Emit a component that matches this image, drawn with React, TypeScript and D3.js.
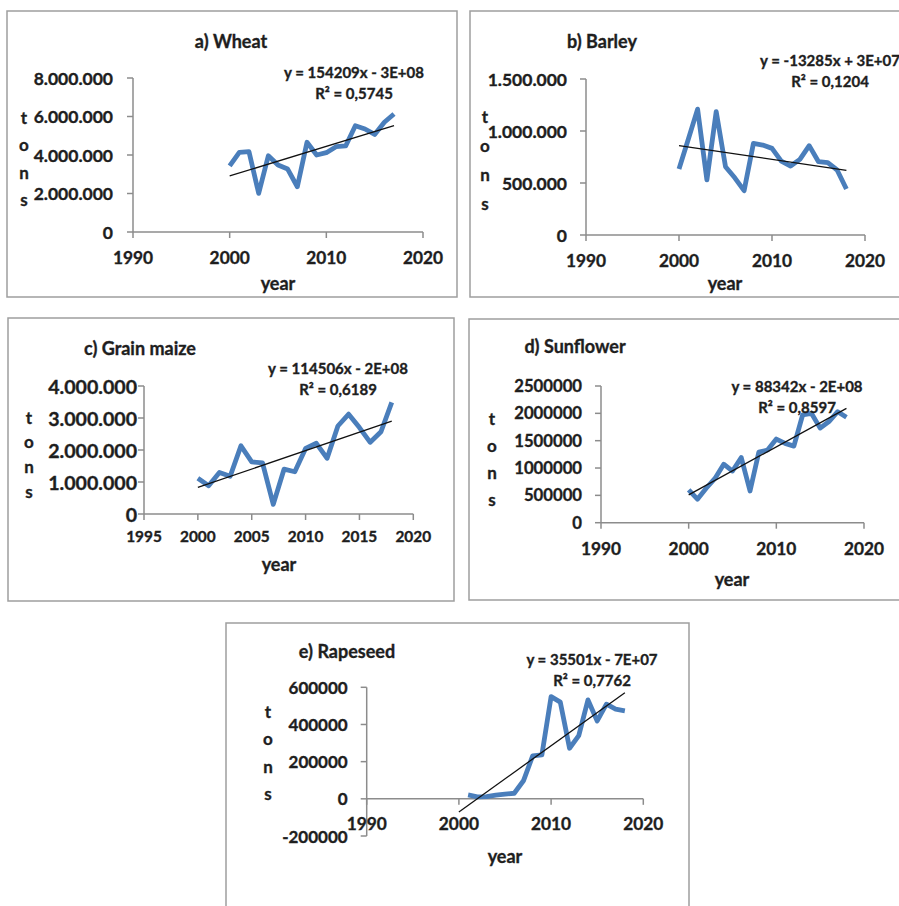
import React from "react";
import * as d3 from "d3";

// ---- data ----
const wheatYears = [2000, 2001, 2002, 2003, 2004, 2005, 2006, 2007, 2008, 2009, 2010, 2011, 2012, 2013, 2014, 2015, 2016, 2017];
const wheatTons = [3430000, 4140000, 4170000, 2010000, 3960000, 3480000, 3270000, 2350000, 4660000, 4000000, 4120000, 4430000, 4470000, 5520000, 5350000, 5070000, 5700000, 6130000];
const wheatTrend = [[2000, 2910000], [2017, 5520000]];

const barleyYears = [2000, 2001, 2002, 2003, 2004, 2005, 2006, 2007, 2008, 2009, 2010, 2011, 2012, 2013, 2014, 2015, 2016, 2017, 2018];
const barleyTons = [635000, 920000, 1210000, 530000, 1186000, 657000, 550000, 426000, 880000, 865000, 833000, 710000, 663000, 727000, 859000, 705000, 695000, 625000, 442000];
const barleyTrend = [[2000, 859000], [2018, 622000]];

const maizeYears = [2000, 2001, 2002, 2003, 2004, 2005, 2006, 2007, 2008, 2009, 2010, 2011, 2012, 2013, 2014, 2015, 2016, 2017, 2018];
const maizeTons = [1115000, 885000, 1300000, 1180000, 2130000, 1630000, 1600000, 300000, 1400000, 1320000, 2050000, 2210000, 1740000, 2750000, 3120000, 2700000, 2240000, 2570000, 3490000];
const maizeTrend = [[2000, 830000], [2018, 2900000]];

const sunflowerYears = [2000, 2001, 2002, 2003, 2004, 2005, 2006, 2007, 2008, 2009, 2010, 2011, 2012, 2013, 2014, 2015, 2016, 2017, 2018];
const sunflowerTons = [600000, 430000, 630000, 810000, 1070000, 945000, 1190000, 580000, 1290000, 1330000, 1530000, 1450000, 1400000, 1970000, 2000000, 1730000, 1850000, 2030000, 1930000];
const sunflowerTrend = [[2000, 510000], [2018, 2090000]];

const rapeseedYears = [2001, 2002, 2003, 2004, 2005, 2006, 2007, 2008, 2009, 2010, 2011, 2012, 2013, 2014, 2015, 2016, 2017, 2018];
const rapeseedTons = [21500, 11000, 12000, 20000, 25000, 30000, 97000, 231000, 237000, 550000, 520000, 272000, 340000, 532000, 419000, 509000, 482000, 473000];
const rapeseedTrend = [[2000, -71000], [2018, 571000]];

const xTicks10 = [1990, 2000, 2010, 2020];
const xTicks5 = [1995, 2000, 2005, 2010, 2015, 2020];

const tonsLetters = ["t", "o", "n", "s"];

const dotFmt = d3.formatLocale({ decimal: ",", thousands: ".", grouping: [3], currency: ["", ""] }).format(",d");
const plainFmt = (v: number) => String(v);

const FONT = "Lato, 'Open Sans', sans-serif";
const TEXT = "#1e1e1e";
const BLUE = "#4a7ebb";
const GRAY = "#8c8c8c";

type Panel = {
  box: [number, number, number, number];
  xRange: [number, number];
  xDomain: [number, number];
  yRange: [number, number];
  yDomain: [number, number];
  xTicks: number[];
  yTicks: number[];
  fmt: (v: number) => string;
  years: number[];
  values: number[];
  trend: number[][];
  title: string;
  titlePos: [number, number];
  eq: string;
  r2: string;
  eqPos: [number, number];
  tonsX: number;
  tonsY: [number, number];
  yearPos: [number, number];
  yTickGap: number;
  yTickSize: number;
  xTickSize: number;
  xTickDy: number;
};

const panels: Panel[] = [
  {
    box: [7, 11, 457, 297],
    xRange: [133, 423], xDomain: [1990, 2020],
    yRange: [232, 78], yDomain: [0, 8000000],
    xTicks: xTicks10, yTicks: [0, 2000000, 4000000, 6000000, 8000000], fmt: dotFmt,
    years: wheatYears, values: wheatTons, trend: wheatTrend,
    title: "a) Wheat", titlePos: [231, 41],
    eq: "y = 154209x - 3E+08", r2: "R² = 0,5745", eqPos: [354, 72],
    tonsX: 24, tonsY: [117, 27.5], yearPos: [278, 283],
    yTickGap: 20, yTickSize: 17.5, xTickSize: 17.3, xTickDy: 25,
  },
  {
    box: [470, 11, 910, 297],
    xRange: [586, 865], xDomain: [1990, 2020],
    yRange: [235, 79], yDomain: [0, 1500000],
    xTicks: xTicks10, yTicks: [0, 500000, 1000000, 1500000], fmt: dotFmt,
    years: barleyYears, values: barleyTons, trend: barleyTrend,
    title: "b) Barley", titlePos: [602, 41],
    eq: "y = -13285x + 3E+07", r2: "R² = 0,1204", eqPos: [830, 60],
    tonsX: 485, tonsY: [116, 29], yearPos: [725, 283],
    yTickGap: 19, yTickSize: 17.5, xTickSize: 17.3, xTickDy: 25,
  },
  {
    box: [8, 318, 454, 601],
    xRange: [144, 413.3], xDomain: [1995, 2020],
    yRange: [514, 386], yDomain: [0, 4000000],
    xTicks: xTicks5, yTicks: [0, 1000000, 2000000, 3000000, 4000000], fmt: dotFmt,
    years: maizeYears, values: maizeTons, trend: maizeTrend,
    title: "c) Grain maize", titlePos: [140, 348],
    eq: "y = 114506x - 2E+08", r2: "R² = 0,6189", eqPos: [338, 368],
    tonsX: 29, tonsY: [417, 24.7], yearPos: [279, 564],
    yTickGap: 7, yTickSize: 19.6, xTickSize: 15.4, xTickDy: 22,
  },
  {
    box: [469, 319, 910, 600],
    xRange: [601, 864], xDomain: [1990, 2020],
    yRange: [522.7, 386], yDomain: [0, 2500000],
    xTicks: xTicks10, yTicks: [0, 500000, 1000000, 1500000, 2000000, 2500000], fmt: plainFmt,
    years: sunflowerYears, values: sunflowerTons, trend: sunflowerTrend,
    title: "d) Sunflower", titlePos: [575, 346],
    eq: "y = 88342x - 2E+08", r2: "R² = 0,8597", eqPos: [797, 386],
    tonsX: 492, tonsY: [418, 27.2], yearPos: [732, 579],
    yTickGap: 19, yTickSize: 16.7, xTickSize: 17.3, xTickDy: 25.5,
  },
  {
    box: [226, 623, 689, 915],
    xRange: [366.7, 643.3], xDomain: [1990, 2020],
    yRange: [836, 687.3], yDomain: [-200000, 600000],
    xTicks: xTicks10, yTicks: [-200000, 0, 200000, 400000, 600000], fmt: plainFmt,
    years: rapeseedYears, values: rapeseedTons, trend: rapeseedTrend,
    title: "e) Rapeseed", titlePos: [347, 651],
    eq: "y = 35501x - 7E+07", r2: "R² = 0,7762", eqPos: [592, 659],
    tonsX: 268, tonsY: [711, 27.5], yearPos: [505, 856],
    yTickGap: 19, yTickSize: 17, xTickSize: 17.3, xTickDy: 25,
  },
];

const txt = { fontWeight: "bold", fill: TEXT, stroke: TEXT, strokeWidth: 0.35 } as const;

function ChartPanel({ p }: { p: Panel }) {
  const x = d3.scaleLinear().domain(p.xDomain).range(p.xRange);
  const y = d3.scaleLinear().domain(p.yDomain).range(p.yRange);
  const pts = p.years.map((yr, i) => [yr, p.values[i]] as [number, number]);
  const line = d3.line<[number, number]>().x((d) => x(d[0])).y((d) => y(d[1]));
  const trendLine = d3.line<number[]>().x((d) => x(d[0])).y((d) => y(d[1]));
  const y0 = y(Math.max(0, p.yDomain[0]));
  const [bx0, by0, bx1, by1] = p.box;

  return (
    <g>
      <rect x={bx0} y={by0} width={bx1 - bx0} height={by1 - by0} fill="#fff" stroke="#9e9e9e" strokeWidth={1.5} />
      {/* axes */}
      <line x1={p.xRange[0]} x2={p.xRange[1]} y1={y0} y2={y0} stroke={GRAY} strokeWidth={1.5} />
      <line x1={p.xRange[0]} x2={p.xRange[0]} y1={p.yRange[0]} y2={p.yRange[1]} stroke={GRAY} strokeWidth={1.5} />
      {p.xTicks.map((t) => (
        <g key={"x" + t}>
          <line x1={x(t)} x2={x(t)} y1={y0} y2={y0 + 6} stroke={GRAY} strokeWidth={1.5} />
          <text x={x(t)} y={y0 + p.xTickDy} textAnchor="middle" dominantBaseline="central"
            fontSize={p.xTickSize} {...txt}>{t}</text>
        </g>
      ))}
      {p.yTicks.map((t) => (
        <g key={"y" + t}>
          <line x1={p.xRange[0] - 6} x2={p.xRange[0]} y1={y(t)} y2={y(t)} stroke={GRAY} strokeWidth={1.5} />
          <text x={p.xRange[0] - p.yTickGap} y={y(t)} textAnchor="end" dominantBaseline="central"
            fontSize={p.yTickSize} {...txt}>{p.fmt(t)}</text>
        </g>
      ))}
      {/* series */}
      <path d={line(pts) || ""} fill="none" stroke={BLUE} strokeWidth={4.8} strokeLinejoin="round" />
      <path d={trendLine(p.trend) || ""} fill="none" stroke="#111" strokeWidth={1.3} />
      {/* labels */}
      <text x={p.titlePos[0]} y={p.titlePos[1]} textAnchor="middle" dominantBaseline="central"
        fontSize={18} {...txt}>{p.title}</text>
      <text x={p.eqPos[0]} y={p.eqPos[1]} textAnchor="middle" dominantBaseline="central"
        fontSize={15} {...txt}>{p.eq}</text>
      <text x={p.eqPos[0]} y={p.eqPos[1] + 21} textAnchor="middle" dominantBaseline="central"
        fontSize={15} {...txt}>{p.r2}</text>
      {tonsLetters.map((c, i) => (
        <text key={c} x={p.tonsX} y={p.tonsY[0] + i * p.tonsY[1]} textAnchor="middle" dominantBaseline="central"
          fontSize={17} {...txt}>{c}</text>
      ))}
      <text x={p.yearPos[0]} y={p.yearPos[1]} textAnchor="middle" dominantBaseline="central"
        fontSize={18} {...txt}>year</text>
    </g>
  );
}

export default function App() {
  return (
    <div style={{ position: "absolute", left: 0, top: 0 }}>
      <svg width={899} height={906} style={{ display: "block", fontFamily: FONT }}>
        <rect width={899} height={906} fill="#fff" />
        {panels.map((p) => (
          <ChartPanel key={p.title} p={p} />
        ))}
      </svg>
    </div>
  );
}
